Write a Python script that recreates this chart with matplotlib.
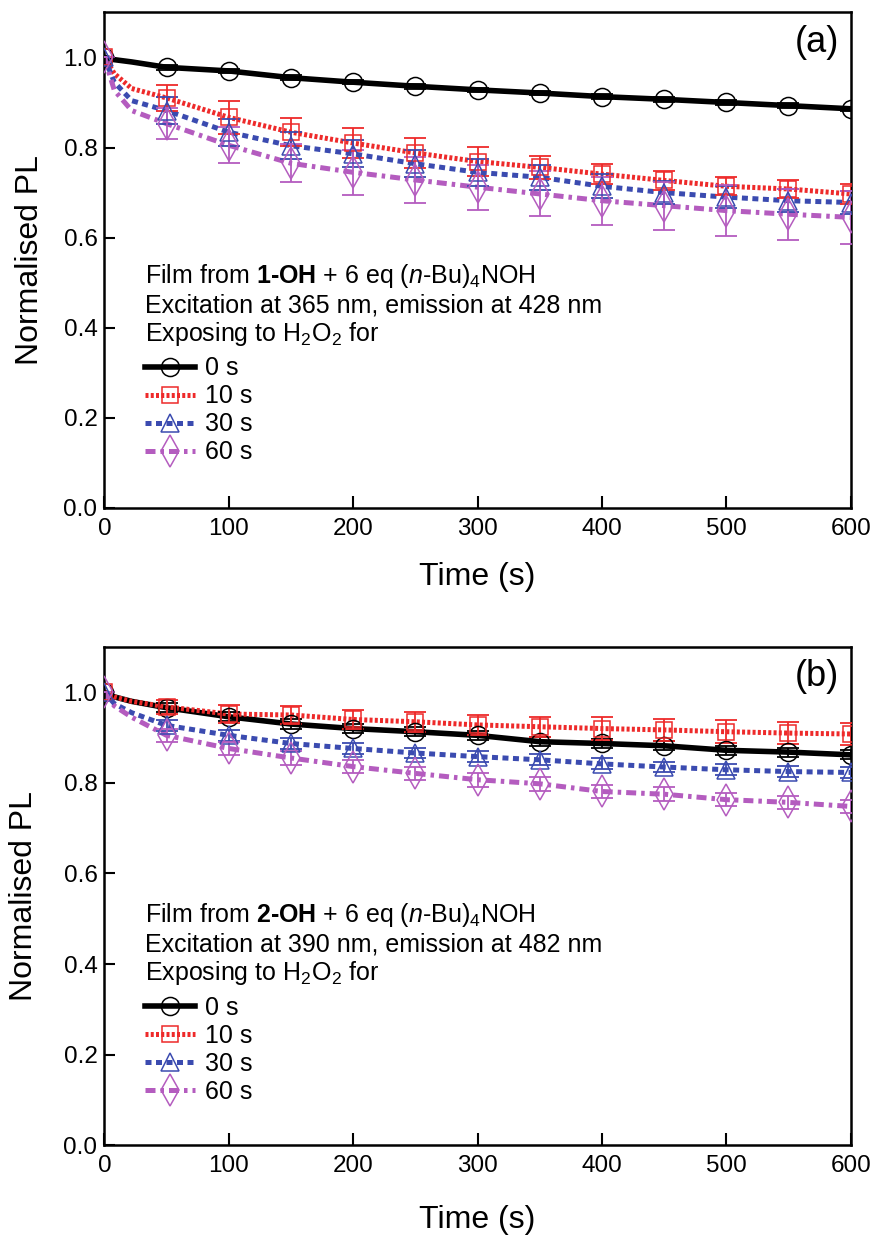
import matplotlib
matplotlib.use("Agg")
import matplotlib.pyplot as plt

plt.rcParams['font.family'] = ['Liberation Sans', 'DejaVu Sans']
plt.rcParams['mathtext.fontset'] = 'custom'
plt.rcParams['mathtext.rm'] = 'Liberation Sans'
plt.rcParams['mathtext.it'] = 'Liberation Sans:italic'
plt.rcParams['mathtext.bf'] = 'Liberation Sans:bold'

# marker times (s) and line times (marker times + a few early points)
t_mark = [0, 50, 100, 150, 200, 250, 300, 350, 400, 450, 500, 550, 600]
t_early = [8, 22]
labels = ['0 s', '10 s', '30 s', '60 s']

# panel (a): 1-OH
a_0 = [1.0, 0.978, 0.970, 0.955, 0.945, 0.936, 0.928, 0.921, 0.913, 0.907, 0.900, 0.893, 0.886]
a_10 = [1.0, 0.910, 0.867, 0.834, 0.810, 0.788, 0.769, 0.756, 0.741, 0.727, 0.714, 0.708, 0.697]
a_30 = [1.0, 0.882, 0.834, 0.804, 0.786, 0.764, 0.745, 0.734, 0.714, 0.700, 0.690, 0.682, 0.678]
a_60 = [1.0, 0.853, 0.805, 0.765, 0.745, 0.728, 0.712, 0.697, 0.682, 0.671, 0.660, 0.652, 0.645]
a_0_err = [0, 0.005, 0.005, 0.005, 0.005, 0.005, 0.005, 0.005, 0.005, 0.005, 0.005, 0.005, 0.005]
a_10_err = [0, 0.028, 0.036, 0.031, 0.034, 0.033, 0.032, 0.026, 0.022, 0.022, 0.020, 0.020, 0.022]
a_30_err = [0, 0.030, 0.030, 0.030, 0.030, 0.030, 0.030, 0.028, 0.027, 0.026, 0.025, 0.025, 0.025]
a_60_err = [0, 0.035, 0.040, 0.042, 0.050, 0.050, 0.050, 0.050, 0.053, 0.053, 0.057, 0.057, 0.058]
a_early = [[0.995, 0.990], [0.964, 0.931], [0.945, 0.904], [0.927, 0.882]]

# panel (b): 2-OH
b_0 = [1.0, 0.966, 0.946, 0.930, 0.920, 0.913, 0.905, 0.891, 0.887, 0.882, 0.872, 0.868, 0.862]
b_10 = [1.0, 0.968, 0.952, 0.950, 0.940, 0.935, 0.928, 0.924, 0.920, 0.917, 0.913, 0.910, 0.908]
b_30 = [1.0, 0.927, 0.905, 0.887, 0.876, 0.866, 0.858, 0.851, 0.842, 0.835, 0.829, 0.825, 0.823]
b_60 = [1.0, 0.905, 0.876, 0.855, 0.836, 0.821, 0.807, 0.798, 0.781, 0.775, 0.763, 0.757, 0.748]
b_0_err = [0, 0.01, 0.01, 0.01, 0.01, 0.01, 0.01, 0.01, 0.01, 0.01, 0.01, 0.01, 0.01]
b_10_err = [0, 0.015, 0.020, 0.020, 0.022, 0.022, 0.022, 0.022, 0.025, 0.025, 0.025, 0.025, 0.025]
b_30_err = [0, 0.012, 0.012, 0.012, 0.012, 0.012, 0.012, 0.012, 0.012, 0.012, 0.012, 0.012, 0.012]
b_60_err = [0, 0.015, 0.015, 0.015, 0.015, 0.015, 0.015, 0.015, 0.015, 0.015, 0.015, 0.015, 0.015]
b_early = [[0.990, 0.980], [0.990, 0.980], [0.975, 0.955], [0.970, 0.945]]

colors = ['black', '#ee2a2a', '#3b4bb0', '#b45cbf']
markers = ['o', 's', '^', 'd']
msizes = [13, 11.5, 13, 16]
lstyles = ['-', (0, (0.6, 0.45)), (0, (1.2, 0.9)), (0, (2.0, 1.0, 0.7, 1.0))]
lwidths = [4, 3.6, 3.6, 3.6]


def draw(ax, series, errs, early, header, tag, lab_y):
    t_line = [t_mark[0]] + t_early + t_mark[1:]
    for i in range(4):
        y = series[i]
        y_line = [y[0]] + early[i] + y[1:]
        ax.plot(t_line, y_line, color=colors[i], ls=lstyles[i], lw=lwidths[i], zorder=2 + i * 0.1)
        ax.errorbar(t_mark, y, yerr=errs[i], fmt='none', ecolor=colors[i], elinewidth=1.3,
                    capsize=8, capthick=1.3, zorder=3)
        ax.plot(t_mark, y, ls='none', marker=markers[i], ms=msizes[i], mfc='none',
                mec=colors[i], mew=1.1, zorder=4)
    # legend handles
    handles = [plt.Line2D([], [], color=colors[i], ls=lstyles[i], lw=lwidths[i],
                          marker=markers[i], ms=msizes[i], mfc='none', mec=colors[i], mew=1.1)
               for i in range(4)]
    ax.legend(handles, labels, loc='upper left', bbox_to_anchor=(0.055, lab_y), frameon=False,
              fontsize=18, handlelength=2.0, handletextpad=0.4, labelspacing=0.16,
              borderpad=0, borderaxespad=0)
    ys = [lab_y + 0.163, lab_y + 0.103, lab_y + 0.046]
    for s, yy in zip(header, ys):
        ax.text(0.055, yy, s, transform=ax.transAxes, fontsize=18, va='center', ha='left')
    ax.text(0.985, 0.94, tag, transform=ax.transAxes, fontsize=26, va='center', ha='right')

    ax.set_xlim(0, 600)
    ax.set_ylim(0, 1.1)
    ax.set_xticks([0, 100, 200, 300, 400, 500, 600])
    ax.set_yticks([0.0, 0.2, 0.4, 0.6, 0.8, 1.0])
    ax.set_yticklabels(['0.0', '0.2', '0.4', '0.6', '0.8', '1.0'])
    ax.tick_params(direction='in', labelsize=17.5, width=1.5)
    ax.tick_params(axis='x', length=9, pad=7)
    ax.tick_params(axis='y', length=8, pad=5)
    for sp in ax.spines.values():
        sp.set_linewidth(1.8)
    ax.set_xlabel('Time (s)', fontsize=23)
    ax.set_ylabel('Normalised PL', fontsize=23)


fig = plt.figure(figsize=(8.77, 12.36), dpi=100)
ax1 = fig.add_axes([0.119, 0.589, 0.851, 0.401])
ax2 = fig.add_axes([0.119, 0.0735, 0.851, 0.403])

draw(ax1, [a_0, a_10, a_30, a_60], [a_0_err, a_10_err, a_30_err, a_60_err], a_early,
     [r'Film from $\mathbf{1‐OH}$ + 6 eq ($\mathit{n}$-Bu)$_4$NOH',
      'Excitation at 365 nm, emission at 428 nm',
      r'Exposing to H$_2$O$_2$ for'], '(a)', 0.306)
draw(ax2, [b_0, b_10, b_30, b_60], [b_0_err, b_10_err, b_30_err, b_60_err], b_early,
     [r'Film from $\mathbf{2‐OH}$ + 6 eq ($\mathit{n}$-Bu)$_4$NOH',
      'Excitation at 390 nm, emission at 482 nm',
      r'Exposing to H$_2$O$_2$ for'], '(b)', 0.299)

ax1.yaxis.set_label_coords(-0.08, 0.5)
ax2.yaxis.set_label_coords(-0.088, 0.5)
ax1.xaxis.set_label_coords(0.5, -0.109)
ax2.xaxis.set_label_coords(0.5, -0.12)

fig.savefig('out.png', dpi=100)
